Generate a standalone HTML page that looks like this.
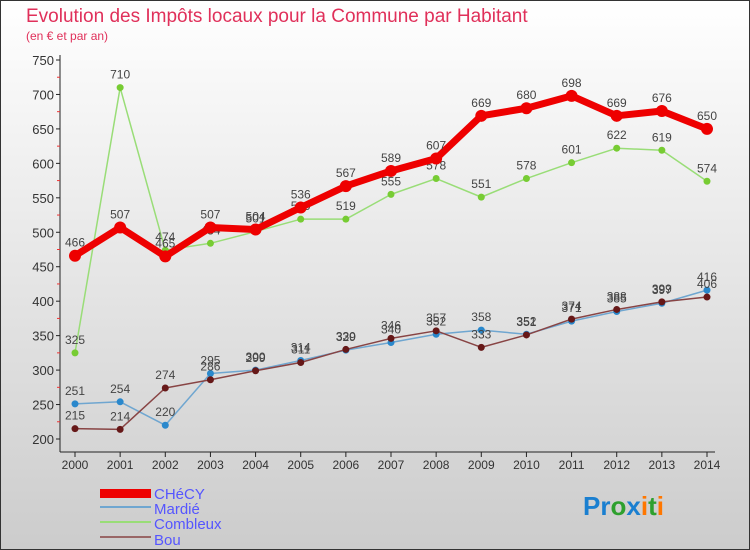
<!DOCTYPE html>
<html><head><meta charset="utf-8"><style>
body{margin:0;width:750px;height:550px;overflow:hidden;font-family:"Liberation Sans",sans-serif}
#c{position:absolute;left:0;top:0}
</style></head><body>
<svg id="c" width="750" height="550" xmlns="http://www.w3.org/2000/svg">
<defs><linearGradient id="bg" x1="0" y1="0" x2="0" y2="1"><stop offset="0" stop-color="#ffffff"/><stop offset="1" stop-color="#cccccc"/></linearGradient></defs>
<rect x="0.5" y="0.5" width="749" height="549" fill="url(#bg)" stroke="#333"/>
<text x="26" y="22" font-size="19" fill="#e0305a">Evolution des Impôts locaux pour la Commune par Habitant</text>
<text x="26" y="40" font-size="12" fill="#e0305a">(en € et par an)</text>
<g id="axes"></g><g id="series"></g>
<g>
<rect x="100" y="489" width="51" height="9" fill="#ee0000"/>
<text x="154" y="499" font-size="15" fill="#5555ff">CHéCY</text>
<rect x="100" y="506" width="51" height="2" fill="#6fa6d0"/>
<text x="154" y="514" font-size="15" fill="#5555ff">Mardié</text>
<rect x="100" y="521" width="51" height="2" fill="#99dd77"/>
<text x="154" y="529" font-size="15" fill="#5555ff">Combleux</text>
<rect x="100" y="536" width="51" height="2" fill="#996666"/>
<text x="154" y="545" font-size="15" fill="#5555ff">Bou</text>
</g>
<g font-size="26" font-weight="bold">
<text x="583" y="515"><tspan fill="#1a7fd0">Pr</tspan><tspan fill="#2ea02e">o</tspan><tspan fill="#1a7fd0">x</tspan><tspan fill="#ff7700">i</tspan><tspan fill="#2ea02e">t</tspan><tspan fill="#ff7700">i</tspan></text>
</g>
</svg>
<script>
const years=[2000,2001,2002,2003,2004,2005,2006,2007,2008,2009,2010,2011,2012,2013,2014];
const yTicks=[200,250,300,350,400,450,500,550,600,650,700,750];
const checy=[466,507,465,507,504,536,567,589,607,669,680,698,669,676,650];
const mardie=[251,254,220,295,300,314,329,340,352,358,352,371,385,397,416];
const combleux=[325,710,474,484,501,519,519,555,578,551,578,601,622,619,574];
const bou=[215,214,274,286,299,311,330,346,357,333,351,374,388,399,406];
const NS="http://www.w3.org/2000/svg";
const X=i=>75+i*(707-75)/(years.length-1);
const Y=v=>439-(v-200)*(439-60)/550;
function mk(t,a,p){const e=document.createElementNS(NS,t);for(const k in a)e.setAttribute(k,a[k]);p.appendChild(e);return e;}
const ax=document.getElementById('axes');
const yAxis=mk('line',{x1:60,y1:55,x2:60,y2:452,stroke:'#222'},ax);


const xAxis=mk('line',{x1:60,y1:452,x2:715,y2:452,stroke:'#222'},ax);


yTicks.forEach((v,i)=>{
  mk('line',{x1:56,y1:Y(v),x2:60,y2:Y(v),stroke:'#222'},ax);
  if(i<yTicks.length-1)mk('line',{x1:57,y1:Y(v+25),x2:60,y2:Y(v+25),stroke:'#e33'},ax);
  const t=mk('text',{x:54,y:Y(v)+5,'font-size':13,'text-anchor':'end',fill:'#333'},ax);
  t.textContent=v;
  
  
});
years.forEach((y,i)=>{
  mk('line',{x1:X(i),y1:452,x2:X(i),y2:457,stroke:'#222'},ax);
  const t=mk('text',{x:X(i),y:469,'font-size':12,'text-anchor':'middle',fill:'#333'},ax);
  t.textContent=y;
  
  
});
const sg=document.getElementById('series');
function draw(data,name,color,dot,w,r){
  const g=mk('g',{},sg);
  
  
  mk('polyline',{points:data.map((v,i)=>X(i)+','+Y(v)).join(' '),fill:'none',stroke:color,'stroke-width':w,'stroke-linejoin':'round'},g);
  data.forEach((v,i)=>{
    const c=mk('circle',{cx:X(i),cy:Y(v),r:r,fill:dot},g);
    
    
    const t=mk('text',{x:X(i),y:Y(v)-9,'font-size':12,'text-anchor':'middle',fill:'#444'},g);
    t.textContent=v;
    
    
  });
}
draw(combleux,'combleux','#99dd77','#77cc33',1.5,3.5);
draw(mardie,'mardie','#6fa6d0','#2a88cc',1.5,3.5);
draw(bou,'bou','#884444','#661818',1.5,3.5);
draw(checy,'checy','#ee0000','#ee0000',7,6);
</script>
</body></html>
